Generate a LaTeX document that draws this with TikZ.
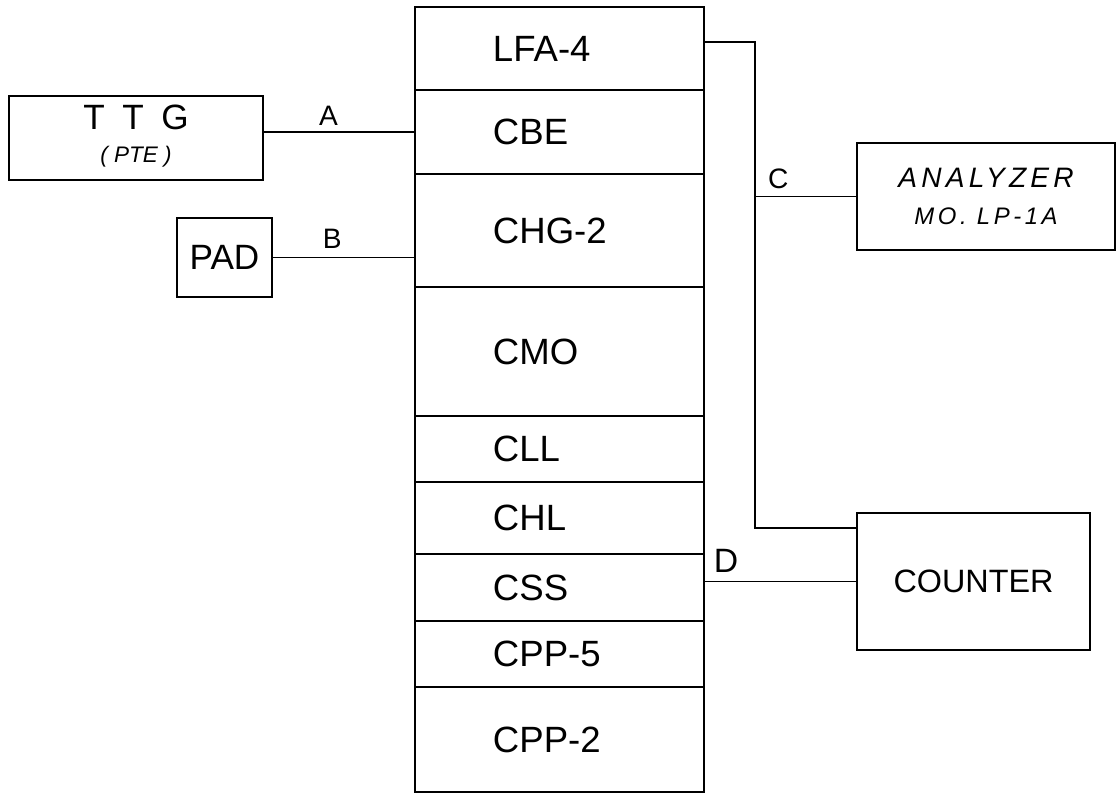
\documentclass[tikz,border=0pt]{standalone}
\usepackage{fontspec}
\setmainfont{Liberation Sans}
\newfontfamily\spaced[LetterSpace=15]{Liberation Sans}
\usetikzlibrary{positioning}

\begin{document}
\begin{tikzpicture}[x=0.025cm, y=-0.025cm, line width=1.4pt,
  cell/.style={draw, minimum width=7.225cm, text width=3.325cm, inner xsep=1.95cm, inner ysep=0pt, align=left, font=\fontsize{26}{30}\selectfont},
  unit/.style={draw, inner sep=0pt, align=center},
  lbl/.style={font=\fontsize{20}{22}\selectfont, inner sep=1pt}]
  \useasboundingbox (0,0) rectangle (1116,796);
  % stacked chassis
  \node[cell, minimum height=2.075cm] (lfa) at (559.5,48.5) {LFA-4};
  \node[cell, minimum height=2.1cm] (cbe) at (559.5,132) {CBE};
  \node[cell, minimum height=2.825cm] (chg) at (559.5,230.5) {CHG-2};
  \node[cell, minimum height=3.225cm] (cmo) at (559.5,351.5) {CMO};
  \node[cell, minimum height=1.65cm] (cll) at (559.5,449) {CLL};
  \node[cell, minimum height=1.8cm] (chl) at (559.5,518) {CHL};
  \node[cell, minimum height=1.675cm] (css) at (559.5,587.5) {CSS};
  \node[cell, minimum height=1.65cm] (cpp5) at (559.5,654) {CPP-5};
  \node[cell, minimum height=2.625cm] (cpp2) at (559.5,739.5) {CPP-2};
  % outside units
  \node[unit, minimum width=6.35cm, minimum height=2.1cm, font=\fontsize{25}{24}\selectfont, text depth=6pt] (ttg) at (136,138) {T\enspace T\enspace G\\{\itshape\fontsize{16}{18}\selectfont ( PTE )}};
  \node[unit, minimum width=2.375cm, minimum height=1.975cm, font=\fontsize{25}{28}\selectfont] (pad) at (224.5,257.5) {PAD};
  \node[unit, minimum width=6.45cm, minimum height=2.675cm, font=\spaced\itshape\fontsize{20}{26}\selectfont] (analyzer) at (986,196.5) {ANALYZER\\{\fontsize{17}{20}\selectfont MO. LP-1A}};
  \node[unit, minimum width=5.825cm, minimum height=3.425cm, font=\fontsize{23}{26}\selectfont] (counter) at (973.5,581.5) {COUNTER};
  % wiring
  \coordinate (jt) at (755,42);
  \coordinate (jb) at (755,528);
  \draw (ttg.east |- cbe.west) -- node[lbl, above=3pt, pos=0.43] {A} (cbe.west);
  \draw (pad.east) -- node[lbl, above=5pt, pos=0.42] {B} (pad.east -| chg.west);
  \draw (lfa.east |- jt) -- (jt) -- (jb) -- (jb -| counter.west);
  \draw (jt |- analyzer.west) -- node[lbl, above=4pt, pos=0.23] {C} (analyzer.west);
  \draw (css.east |- counter.west) -- node[lbl, above=5pt, pos=0.14, font=\fontsize{24}{26}\selectfont] {D} (counter.west);
\end{tikzpicture}
\end{document}
